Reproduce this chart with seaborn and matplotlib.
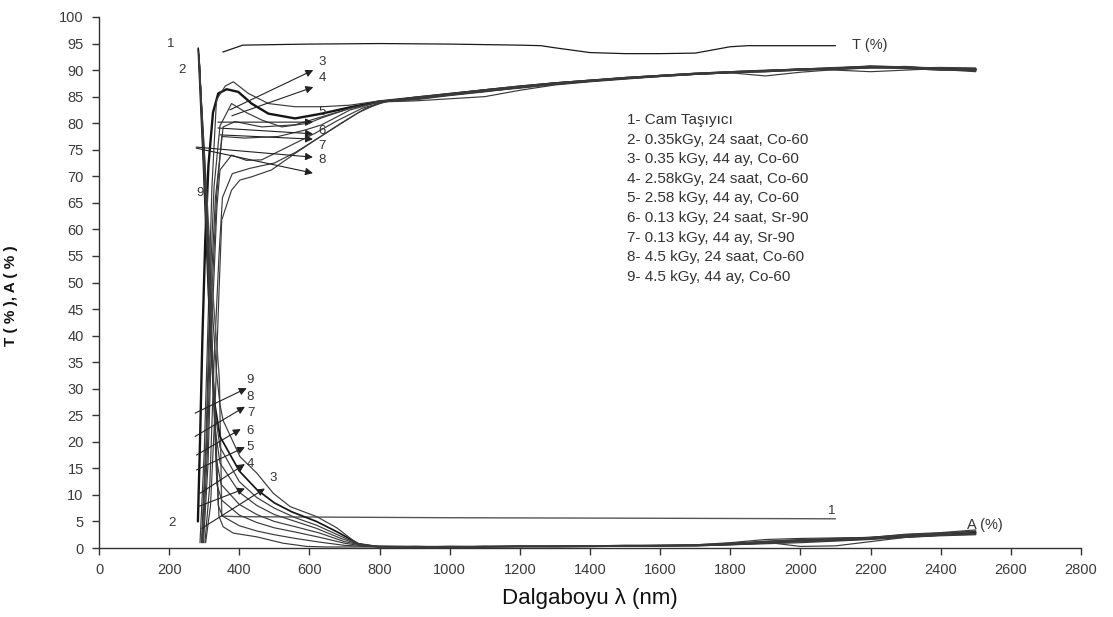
import matplotlib
matplotlib.use("Agg")
import matplotlib.pyplot as plt
import seaborn as sns
import pandas as pd

# ---------------- data ----------------
TAIL_NM = [900, 1000, 1100, 1200, 1300, 1400, 1500, 1600, 1700, 1800,
           1900, 2000, 2100, 2200, 2300, 2400, 2500]

# Transmission T (%)
T1_nm = [353, 410, 500, 600, 800, 1000, 1200, 1260, 1300, 1400, 1500, 1600, 1700, 1750, 1800, 1850, 2100]
T1 = [93.4, 94.7, 94.8, 94.9, 95.0, 94.9, 94.7, 94.6, 94.2, 93.3, 93.1, 93.1, 93.2, 93.8, 94.4, 94.6, 94.6]

T2_nm = [282, 288, 295, 303, 312, 325, 340, 364, 397, 435, 483, 559, 635, 716, 800]
T2 = [5, 20, 40, 58, 72, 82, 85.6, 86.4, 85.9, 83.7, 81.8, 80.9, 81.8, 83.0, 84.1]
T2_tail = [84.8, 85.5, 86.2, 86.9, 87.5, 88.0, 88.5, 88.9, 89.3, 89.6, 89.8, 90.1, 90.3, 90.6, 90.5, 90.2, 90.1]

T3_nm = [288, 300, 312, 322, 335, 360, 383, 426, 483, 559, 635, 716, 800]
T3 = [1, 18, 45, 68, 84.4, 87.0, 87.8, 85.6, 83.7, 83.1, 83.1, 83.4, 84.2]
T3_tail = [84.6, 85.3, 86.0, 86.6, 87.3, 87.9, 88.4, 88.8, 89.2, 89.5, 89.7, 90.0, 90.4, 90.8, 90.6, 90.4, 90.3]

T4_nm = [292, 305, 316, 328, 345, 378, 420, 464, 521, 597, 635, 716, 800]
T4 = [1, 20, 48, 68, 79.5, 83.7, 82.0, 80.6, 79.3, 80.0, 81.0, 82.8, 84.0]
T4_tail = [84.4, 85.2, 85.9, 86.7, 87.4, 88.0, 88.6, 89.0, 89.4, 89.7, 89.9, 90.2, 90.0, 89.7, 90.0, 90.3, 89.8]

T5_nm = [294, 307, 318, 332, 354, 388, 464, 559, 635, 716, 800]
T5 = [1, 20, 47, 66, 79.3, 80.3, 79.3, 79.7, 81.2, 82.8, 84.0]
T5_tail = [84.9, 85.6, 86.3, 87.0, 87.6, 88.1, 88.5, 88.9, 89.2, 89.5, 89.9, 90.2, 90.5, 90.7, 90.3, 90.0, 90.2]

T6_nm = [296, 309, 320, 335, 350, 416, 511, 587, 635, 716, 800]
T6 = [1, 18, 45, 66, 77.5, 77.2, 77.5, 78.7, 79.7, 82.5, 84.0]
T6_tail = [84.2, 84.6, 85.0, 86.2, 87.2, 87.8, 88.3, 88.8, 89.2, 89.5, 88.9, 89.6, 90.1, 90.4, 90.6, 90.1, 89.7]

T7_nm = [298, 311, 322, 336, 345, 378, 420, 464, 540, 616, 680, 750, 820]
T7 = [1, 16, 42, 64, 71.2, 74.0, 73.0, 73.1, 75.6, 78.1, 80.5, 82.8, 84.2]
T7_tail = [84.7, 85.4, 86.1, 86.8, 87.5, 88.0, 88.5, 89.0, 89.3, 89.6, 89.8, 90.1, 90.4, 90.6, 90.4, 90.5, 90.4]

T8_nm = [302, 316, 328, 342, 352, 380, 430, 500, 560, 620, 690, 760, 830]
T8 = [1, 12, 35, 55, 66, 70.5, 71.5, 72.5, 74.5, 77.0, 80.0, 82.8, 84.3]
T8_tail = [84.5, 85.3, 86.0, 86.7, 87.3, 87.9, 88.4, 88.9, 89.3, 89.7, 90.0, 90.2, 90.3, 90.5, 90.7, 90.1, 89.9]

T9_nm = [304, 318, 330, 342, 350, 378, 402, 435, 492, 559, 616, 680, 740, 800, 850]
T9 = [1, 8, 25, 48, 61.8, 67.4, 69.3, 69.9, 71.2, 74.3, 76.8, 79.5, 82.0, 83.8, 84.4]
T9_tail = [84.8, 85.5, 86.3, 86.9, 87.6, 88.1, 88.6, 89.0, 89.4, 89.6, 89.9, 90.0, 90.2, 90.4, 90.3, 90.0, 90.1]

# Absorption A (%)
A1_nm = [283, 320, 343, 348, 350, 400, 1000, 1600, 2100]
A1 = [94.2, 52, 32, 15, 6.0, 5.9, 5.7, 5.6, 5.5]

A2_nm = [283, 298, 312, 328, 345, 400, 450, 500, 550, 620, 680, 740, 790]
A2 = [94, 72, 48, 28, 21, 14.5, 11, 8.5, 6.8, 5, 3, 0.8, 0.3]
A2_tail = [0.2, 0.2, 0.2, 0.3, 0.3, 0.3, 0.4, 0.4, 0.5, 0.7, 1.0, 1.3, 1.5, 1.8, 2.2, 2.5, 2.9]

A3_nm = [284, 300, 318, 335, 345, 354, 402, 450, 497, 545, 621, 678, 735, 780, 850]
A3 = [93, 75, 50, 33, 27, 24, 17.2, 14.1, 10.3, 7.8, 5.9, 3.8, 0.9, 0.3, 0.2]
A3_tail = [0.3, 0.2, 0.3, 0.4, 0.3, 0.4, 0.5, 0.5, 0.6, 1.0, 1.6, 1.8, 1.9, 2.0, 2.6, 2.9, 3.4]

A4_nm = [284, 300, 314, 330, 345, 400, 450, 500, 560, 620, 680, 740, 800]
A4 = [93.5, 70, 46, 26, 19, 12.5, 9.5, 7.5, 5.7, 4.3, 2.5, 0.7, 0.3]
A4_tail = [0.2, 0.3, 0.3, 0.3, 0.2, 0.3, 0.3, 0.4, 0.4, 0.6, 0.9, 1.2, 1.4, 1.7, 2.1, 2.4, 2.8]

A5_nm = [285, 300, 315, 332, 345, 400, 450, 500, 560, 620, 690, 750, 800]
A5 = [93, 72, 48, 22, 16, 10.5, 8, 6.3, 5, 3.7, 1.8, 0.5, 0.3]
A5_tail = [0.3, 0.2, 0.2, 0.3, 0.3, 0.4, 0.4, 0.5, 0.5, 0.8, 1.1, 0.3, 0.4, 1.2, 2.0, 2.4, 2.6]

A6_nm = [285, 302, 316, 334, 348, 400, 450, 500, 560, 630, 700, 760, 800]
A6 = [93, 70, 46, 17, 12, 8.2, 6.3, 5, 4, 2.8, 1.2, 0.4, 0.2]
A6_tail = [0.2, 0.2, 0.3, 0.3, 0.3, 0.3, 0.4, 0.4, 0.5, 0.7, 1.2, 1.5, 1.7, 2.0, 2.4, 2.7, 3.1]

A7_nm = [286, 303, 318, 336, 350, 400, 450, 500, 560, 630, 700, 760, 800]
A7 = [92, 68, 44, 12, 9, 6.2, 4.8, 3.8, 3, 2, 0.9, 0.3, 0.2]
A7_tail = [0.2, 0.3, 0.3, 0.2, 0.3, 0.3, 0.3, 0.4, 0.4, 0.6, 0.8, 1.0, 1.3, 1.6, 2.0, 2.3, 2.5]

A8_nm = [286, 304, 320, 340, 352, 400, 450, 500, 560, 630, 700, 760, 800]
A8 = [92, 66, 42, 8, 6, 4.2, 3.2, 2.5, 1.8, 1.1, 0.5, 0.3, 0.3]
A8_tail = [0.3, 0.3, 0.2, 0.3, 0.3, 0.4, 0.5, 0.5, 0.6, 0.9, 1.3, 1.6, 1.8, 2.0, 2.5, 2.8, 3.2]

A9_nm = [287, 305, 322, 342, 354, 383, 450, 525, 592, 650, 720, 800]
A9 = [91, 65, 40, 6, 4, 2.8, 2.1, 0.9, 0.3, 0.2, 0.2, 0.2]
A9_tail = [0.2, 0.2, 0.3, 0.3, 0.4, 0.4, 0.4, 0.5, 0.5, 0.7, 1.0, 1.3, 1.5, 1.8, 2.2, 2.5, 2.7]

LEGEND_LINES = [
    "1- Cam Taşıyıcı",
    "2- 0.35kGy, 24 saat, Co-60",
    "3- 0.35 kGy, 44 ay, Co-60",
    "4- 2.58kGy, 24 saat, Co-60",
    "5- 2.58 kGy, 44 ay, Co-60",
    "6- 0.13 kGy, 24 saat, Sr-90",
    "7- 0.13 kGy, 44 ay, Sr-90",
    "8- 4.5 kGy, 24 saat, Co-60",
    "9- 4.5 kGy, 44 ay, Co-60",
]
X_TICKS = list(range(0, 2801, 200))
Y_TICKS = list(range(0, 101, 5))
X_LABEL = "Dalgaboyu λ (nm)"
Y_LABEL = "T ( % ), A ( % )"

# ---------------- build long table ----------------
series = [
    ("T1", T1_nm, T1, None),
    ("T2", T2_nm, T2, T2_tail), ("T3", T3_nm, T3, T3_tail), ("T4", T4_nm, T4, T4_tail),
    ("T5", T5_nm, T5, T5_tail), ("T6", T6_nm, T6, T6_tail), ("T7", T7_nm, T7, T7_tail),
    ("T8", T8_nm, T8, T8_tail), ("T9", T9_nm, T9, T9_tail),
    ("A1", A1_nm, A1, None),
    ("A2", A2_nm, A2, A2_tail), ("A3", A3_nm, A3, A3_tail), ("A4", A4_nm, A4, A4_tail),
    ("A5", A5_nm, A5, A5_tail), ("A6", A6_nm, A6, A6_tail), ("A7", A7_nm, A7, A7_tail),
    ("A8", A8_nm, A8, A8_tail), ("A9", A9_nm, A9, A9_tail),
]
rows = []
for name, xs, ys, tail in series:
    xx = list(xs) + (TAIL_NM if tail is not None else [])
    yy = list(ys) + (list(tail) if tail is not None else [])
    for i, (a, b) in enumerate(zip(xx, yy)):
        rows.append({"curve": name, "order": i, "nm": a, "val": b})
df = pd.DataFrame(rows)

# ---------------- style ----------------
sns.set_theme(style="ticks")
plt.rcParams["font.family"] = ["Liberation Sans", "DejaVu Sans"]

fig = plt.figure(figsize=(11.13, 6.17), dpi=100)
ax = fig.add_axes([99 / 1113, 69 / 617, 982 / 1113, 531 / 617])
fig.patch.set_facecolor("white")
ax.set_facecolor("white")

for name, _, _, _ in series:
    sub = df[df["curve"] == name].sort_values("order")
    if name == "T2":
        col, lw = "#151515", 1.7
    elif name == "A2":
        col, lw = "#151515", 1.25
    elif name == "A1":
        col, lw = "#555555", 1.0
    elif name == "T1":
        col, lw = "#1a1a1a", 0.9
    else:
        col, lw = "#3a3a3a", 0.85
    sns.lineplot(data=sub, x="nm", y="val", ax=ax, color=col, lw=lw,
                 sort=False, estimator=None, legend=False)

ax.set_xlim(0, 2800)
ax.set_ylim(0, 100)
ax.set_xticks(X_TICKS)
ax.set_yticks(Y_TICKS)
ax.set_xticklabels([str(t) for t in X_TICKS])
ax.set_yticklabels([str(t) for t in Y_TICKS])
ax.tick_params(axis="both", direction="out", length=5, width=1, color="#333333",
               labelsize=10.5, labelcolor="#3a3a3a", pad=6)
for s in ("top", "right"):
    ax.spines[s].set_visible(False)
for s in ("left", "bottom"):
    ax.spines[s].set_color("#333333")
    ax.spines[s].set_linewidth(1.0)

ax.set_xlabel(X_LABEL, fontsize=16, color="#111111", labelpad=8)
ax.set_ylabel(Y_LABEL, fontsize=11, fontweight="bold", color="#111111")
ax.yaxis.set_label_coords(-0.082, 0.476)

# legend block text
for i, line in enumerate(LEGEND_LINES):
    ax.text(1505, 80.6 - i * 3.69, line, fontsize=11, color="#333333",
            ha="left", va="center")

lab_kw = dict(fontsize=9.5, color="#333333", ha="center", va="center")
ax.text(2198, 94.7, "T (%)", fontsize=10.5, color="#333333", ha="center", va="center")
ax.text(2526, 4.4, "A (%)", fontsize=10.5, color="#333333", ha="center", va="center")
ax.text(2090, 6.9, "1", **lab_kw)
ax.text(205, 94.9, "1", **lab_kw)
ax.text(237, 90.0, "2", **lab_kw)
ax.text(288, 66.9, "9", **lab_kw)
ax.text(207, 4.7, "2", **lab_kw)

arrow_kw = dict(arrowstyle="-|>", color="#222222", lw=0.8, mutation_scale=11,
                shrinkA=0, shrinkB=0)

# upper arrows (T region): start, head
T_ARROWS = [((373, 82.5), (611, 90.0)), ((379, 81.4), (611, 86.8)),
            ((339, 80.2), (610, 80.2)), ((339, 79.1), (610, 78.0)),
            ((345, 77.8), (610, 77.0)), ((277, 75.5), (610, 73.6)),
            ((277, 75.3), (610, 70.6))]
for s_, h_ in T_ARROWS:
    ax.annotate("", xy=h_, xytext=s_, arrowprops=arrow_kw)
for txt, pos in [("3", (636, 91.5)), ("4", (636, 88.5)), ("5", (636, 82.1)),
                 ("6", (636, 78.6)), ("7", (636, 75.7)), ("8", (636, 73.1))]:
    ax.text(pos[0], pos[1], txt, **lab_kw)

# lower arrows (A region)
A_ARROWS = [((274, 25.4), (421, 30.1)), ((274, 21.0), (416, 26.6)),
            ((278, 17.5), (404, 22.4)), ((278, 14.7), (416, 19.0)),
            ((288, 10.3), (416, 15.8)), ((283, 7.8), (416, 11.2)),
            ((293, 3.7), (473, 11.2))]
for s_, h_ in A_ARROWS:
    ax.annotate("", xy=h_, xytext=s_, arrowprops=arrow_kw)
for txt, pos in [("9", (432, 31.6)), ("8", (432, 28.5)), ("7", (432, 25.4)),
                 ("6", (432, 22.1)), ("5", (432, 19.0)), ("4", (432, 15.8)),
                 ("3", (497, 13.1))]:
    ax.text(pos[0], pos[1], txt, **lab_kw)

fig.savefig("out.png", dpi=100, facecolor="white")
